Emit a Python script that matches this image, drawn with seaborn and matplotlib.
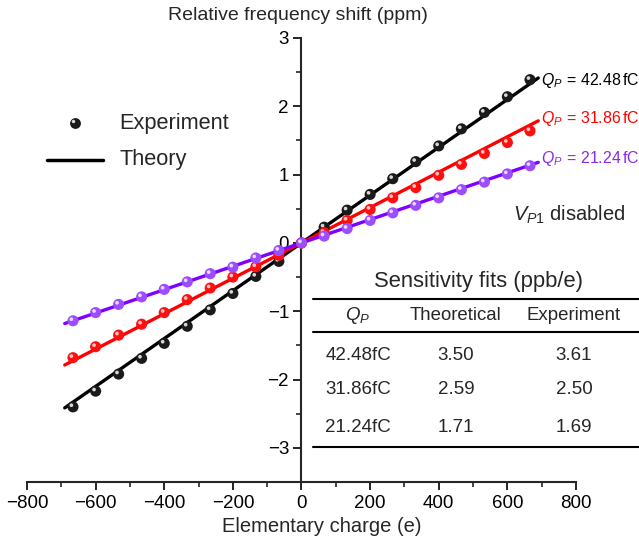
import matplotlib
matplotlib.use("Agg")
import matplotlib.pyplot as plt
import matplotlib.transforms as mtransforms
import seaborn as sns
import numpy as np
import pandas as pd

# ---- data ----
charge = [-666, -600, -533, -466, -400, -333, -266, -200, -133, -66, 0,
          66, 133, 200, 266, 333, 400, 466, 533, 600, 666]
exp_4248 = [-2.40, -2.17, -1.92, -1.69, -1.47, -1.22, -0.98, -0.74, -0.49, -0.27, 0.0,
            0.23, 0.48, 0.71, 0.94, 1.19, 1.42, 1.67, 1.91, 2.14, 2.39]
exp_3186 = [-1.68, -1.52, -1.35, -1.19, -1.02, -0.83, -0.66, -0.50, -0.35, -0.18, 0.0,
            0.15, 0.33, 0.49, 0.66, 0.81, 0.99, 1.15, 1.31, 1.47, 1.64]
exp_2124 = [-1.14, -1.02, -0.90, -0.79, -0.68, -0.57, -0.45, -0.355, -0.22, -0.11, 0.0,
            0.10, 0.21, 0.33, 0.44, 0.55, 0.66, 0.78, 0.89, 1.01, 1.13]
theory_x = [-690, 690]
qp_labels = ["42.48fC", "31.86fC", "21.24fC"]
theoretical_slopes = [3.50, 2.59, 1.71]     # ppb/e
experiment_slopes = [3.61, 2.50, 1.69]      # ppb/e
series_names = ["42.48", "31.86", "21.24"]

sns.set_style("ticks")
plt.rcParams['font.family'] = ['Liberation Sans', 'DejaVu Sans']
plt.rcParams['mathtext.fontset'] = 'custom'
plt.rcParams['mathtext.rm'] = 'Liberation Sans'
plt.rcParams['mathtext.it'] = 'Liberation Sans:italic'

fig = plt.figure(figsize=(6.39, 5.43), dpi=100)
W, H = 639, 543
ax = fig.add_axes([27 / W, 1 - 482 / H, (576 - 27) / W, (482 - 38) / H])
ax.set_xlim(-800, 800)
ax.set_ylim(-3.5, 3)

line_cols = ['#000000', '#FF0000', '#7F00FF']
ball_cols = ['#1a1a1a', '#FF1010', '#9B4DFF']
hi_cols = ['#d8d8d8', '#ffc8c8', '#ecdcff']
text_cols = ['#000000', '#FF0000', '#8A2BE2']
exps = [exp_4248, exp_3186, exp_2124]

hl_offset = mtransforms.ScaledTranslation(-1.6 / 100, 1.6 / 100, fig.dpi_scale_trans)
order = [0, 2, 1]
for i in order:
    tdf = pd.DataFrame({'x': theory_x,
                        'y': [theoretical_slopes[i] * 1e-3 * v for v in theory_x]})
    sns.lineplot(data=tdf, x='x', y='y', ax=ax, color=line_cols[i], lw=2.4,
                 zorder=2 + i, legend=False)
    edf = pd.DataFrame({'x': charge, 'y': exps[i]})
    sns.scatterplot(data=edf, x='x', y='y', ax=ax, color=ball_cols[i], s=64,
                    edgecolor='none', zorder=5 + i, legend=False)
    sns.scatterplot(data=edf, x='x', y='y', ax=ax, color=hi_cols[i], s=7,
                    edgecolor='none', zorder=5.5 + i, legend=False,
                    transform=ax.transData + hl_offset)

# spines
ax.spines['top'].set_visible(False)
ax.spines['right'].set_visible(False)
ax.spines['left'].set_position(('data', 0))
for s in ['left', 'bottom']:
    ax.spines[s].set_linewidth(1.5)
ax.set_xticks(np.arange(-800, 801, 200))
ax.set_xticks(np.arange(-700, 800, 200), minor=True)
ax.set_yticks(np.arange(-3, 4, 1))
ax.set_yticks(np.arange(-3.5, 3.1, 1.0), minor=True)
ax.set_xticklabels([f"{v}".replace('-', '\u2212') for v in range(-800, 801, 200)])
ax.set_yticklabels([f"{v}".replace('-', '\u2212') for v in range(-3, 4)])
ax.tick_params(which='major', length=5.5, width=1.2, labelsize=13.5, direction='out', colors='black')
ax.tick_params(which='minor', length=3.5, width=1.2, direction='out')
ax.set_xlabel('')
ax.set_ylabel('')

def fx(px):
    return px / W

def fy(py):
    return 1 - py / H

fig.text(fx(298), fy(15), 'Relative frequency shift (ppm)', ha='center', va='center', fontsize=14)
fig.text(fx(322), fy(527), 'Elementary charge (e)', ha='center', va='center', fontsize=14.5)

# legend (manual)
fig.add_artist(plt.Line2D([fx(75)], [fy(123)], marker='o', ms=7.8, color='#1a1a1a', mec='none', ls='none'))
fig.add_artist(plt.Line2D([fx(73.4)], [fy(121.4)], marker='o', ms=2.5, color='#d8d8d8', mec='none', ls='none'))
fig.text(fx(119), fy(124), 'Experiment', ha='left', va='center', fontsize=15.7)
fig.add_artist(plt.Line2D([fx(47), fx(103)], [fy(160), fy(160)], color='black', lw=2.5))
fig.text(fx(119), fy(160), 'Theory', ha='left', va='center', fontsize=15.7)

# series annotations
ann_y = [80, 119, 159]
for i in range(3):
    fig.text(fx(541), fy(ann_y[i]),
             r'$Q_P\,{=}\,\mathrm{' + series_names[i] + r'\,fC}$',
             ha='left', va='center', fontsize=11.4, color=text_cols[i])
fig.text(fx(513), fy(215), r'$V_{P\mathrm{1}}$ disabled', ha='left', va='center', fontsize=14.5)

# table
fig.text(fx(478), fy(281), 'Sensitivity fits (ppb/e)', ha='center', va='center', fontsize=15.8)
for yy in [299, 332, 447]:
    fig.add_artist(plt.Line2D([fx(313), fx(640)], [fy(yy), fy(yy)], color='black', lw=1.5))
fig.text(fx(358), fy(316), r'$Q_P$', ha='center', va='center', fontsize=13.5)
fig.text(fx(456), fy(316), 'Theoretical', ha='center', va='center', fontsize=13.4)
fig.text(fx(574), fy(316), 'Experiment', ha='center', va='center', fontsize=13.4)
row_y = [355, 390, 427]
for i in range(3):
    fig.text(fx(358), fy(row_y[i]), qp_labels[i], ha='center', va='center', fontsize=13.5)
    fig.text(fx(456), fy(row_y[i]), f"{theoretical_slopes[i]:.2f}", ha='center', va='center', fontsize=13.5)
    fig.text(fx(574), fy(row_y[i]), f"{experiment_slopes[i]:.2f}", ha='center', va='center', fontsize=13.5)

fig.savefig('out.png', dpi=100)
